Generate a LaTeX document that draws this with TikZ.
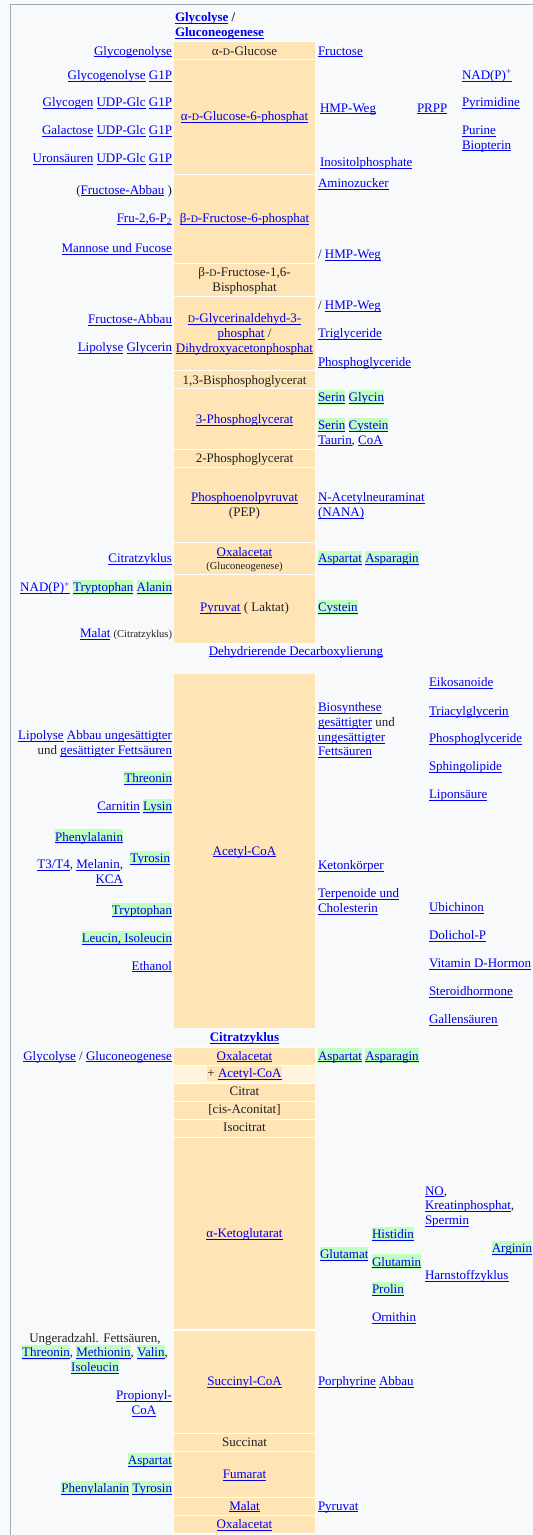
\documentclass[tikz,border=0pt]{standalone}
\usepackage{fontspec}
\setmainfont{Liberation Serif}
\definecolor{bgc}{HTML}{F8F9FA}
\definecolor{bordc}{HTML}{A2A9B1}
\definecolor{beige}{HTML}{FFE4B5}
\definecolor{lbeige}{HTML}{FFF5DC}
\definecolor{greenc}{HTML}{C0FFC0}
\definecolor{linkc}{HTML}{0000EE}
\definecolor{txt}{HTML}{202122}
\setlength\fboxsep{0pt}
\newcommand\lk[1]{{\color{linkc}\setbox0\hbox{#1}\rlap{\rule[-2.3pt]{\wd0}{0.9pt}}\box0}}
\newcommand\gstrut{\rule[-2.8pt]{0pt}{14.4pt}}
\newcommand\gh[1]{\colorbox{greenc}{\gstrut#1}}
\newcommand\gl[1]{\gh{\lk{#1}}}
\newcommand\sD{{\fontsize{10pt}{10pt}\selectfont D}}
\newcommand\smalltxt{\fontsize{10.5pt}{12pt}\selectfont}
\tikzset{
  every node/.style={font=\fontsize{13pt}{14.7pt}\selectfont, inner sep=0pt, outer sep=0pt, text=txt},
  lt/.style={anchor=base east},
  rt/.style={anchor=base west},
  ct/.style={anchor=base},
  cellfill/.style={fill=beige},
}
\begin{document}
\begin{tikzpicture}[x=1pt,y=-1pt]
\useasboundingbox (0,0) rectangle (533,1535);
\fill[bgc] (0,0) rectangle (533,1535);
\draw[bordc, line width=1pt] (10.5,1535) -- (10.5,4.5) -- (533,4.5);
% white backing of the column
\fill[white] (174,41) rectangle (315,644);
\fill[white] (174,1047) rectangle (315,1534);
% cells
\foreach \a/\b in {42/59,60/174,175/263,264/296,297/370,371/388,389/449,450/467,468/542,543/574,575/643,674/1028,1048/1065,1084/1101,1102/1119,1120/1137,1138/1329,1331/1433,1434/1451,1452/1497,1498/1515,1516/1533}
  \fill[cellfill] (174,\a) rectangle (315,\b);
\fill[lbeige] (174,1066) rectangle (315,1083);
% header (base = last line)
\node[rt, align=left, font=\fontsize{13pt}{14.7pt}\selectfont\bfseries] (hdr) at (175,36.4) {\lk{Glycolyse} /\\\lk{Gluconeogenese}};
% centre column
\node[ct] (glc) at (244.5,55) {α-\sD-Glucose};
\node[ct] (g6p) at (244.5,120.7) {\lk{α-\sD-Glucose-6-phosphat}};
\node[ct] (f6p) at (244.5,222.7) {\lk{β-\sD-Fructose-6-phosphat}};
\node[ct, align=center] (fbp) at (244.5,291.2) {β-\sD-Fructose-1,6-\\Bisphosphat};
\node[ct, align=center] (gap) at (244.5,352) {\lk{\sD-Glycerinaldehyd-3-}\\\lk{phosphat} /\\\lk{Dihydroxyacetonphosphat}};
\node[ct] (bpg) at (244.5,384) {1,3-Bisphosphoglycerat};
\node[ct] (pgd) at (244.5,423.3) {\lk{3-Phosphoglycerat}};
\node[ct] (pgz) at (244.5,462.7) {2-Phosphoglycerat};
\node[ct, align=center] (pep) at (244.5,516.5) {\lk{Phosphoenolpyruvat}\\(PEP)};
\node[ct] (oaaa) at (244.5,556) {\lk{Oxalacetat}};
\node[ct] (oaaasub) at (244.5,569) {\smalltxt (Gluconeogenese)};
\node[ct] (pyr) at (244.5,611.7) {\lk{Pyruvat} ( Laktat)};
\node[ct] (dec) at (296,655) {\lk{Dehydrierende Decarboxylierung}};
\node[ct] (acoa) at (244.5,855) {\lk{Acetyl-CoA}};
\node[ct] (citz) at (244.5,1041.7) {\bfseries\lk{Citratzyklus}};
\node[ct] (oaab) at (244.5,1060) {\lk{Oxalacetat}};
\node[ct] (plus) at (244.5,1077.7) {\colorbox{beige}{\gstrut+ \lk{Acetyl-CoA}}};
\node[ct] (cit) at (244.5,1095.7) {Citrat};
\node[ct] (cis) at (244.5,1113.7) {[cis-Aconitat]};
\node[ct] (iso) at (244.5,1131.7) {Isocitrat};
\node[ct] (akg) at (244.5,1237.3) {\lk{α-Ketoglutarat}};
\node[ct] (scoa) at (244.5,1385.7) {\lk{Succinyl-CoA}};
\node[ct] (succ) at (244.5,1446.7) {Succinat};
\node[ct] (fum) at (244.5,1478.3) {\lk{Fumarat}};
\node[ct] (mal) at (244.5,1510) {\lk{Malat}};
\node[ct] (oaac) at (244.5,1528.3) {\lk{Oxalacetat}};
% left column
\node[lt] (l1) at (172,55) {\lk{Glycogenolyse}};
\node[lt] (l2) at (172,79.3) {\lk{Glycogenolyse} \lk{G1P}};
\node[lt] (l3) at (172,106.7) {\lk{Glycogen} \lk{UDP-Glc} \lk{G1P}};
\node[lt] (l4) at (172,134.3) {\lk{Galactose} \lk{UDP-Glc} \lk{G1P}};
\node[lt] (l5) at (172,162.3) {\lk{Uronsäuren} \lk{UDP-Glc} \lk{G1P}};
\node[lt] (l6) at (172,194) {(\lk{Fructose-Abbau} )};
\node[lt] (l7) at (172,222.3) {\lk{Fru-2,6-P\textsubscript{2}}};
\node[lt] (l8) at (172,252.7) {\lk{Mannose und Fucose}};
\node[lt] (l9) at (172,323.3) {\lk{Fructose-Abbau}};
\node[lt] (l10) at (172,351.7) {\lk{Lipolyse} \lk{Glycerin}};
\node[lt] (l11) at (172,562.7) {\lk{Citratzyklus}};
\node[lt] (l12) at (172,591.7) {\lk{NAD(P)\textsuperscript{+}} \gl{Tryptophan} \gl{Alanin}};
\node[lt] (l13) at (172,637.7) {\lk{Malat} {\smalltxt (Citratzyklus)}};
\node[lt, align=right] (l14) at (172,754.6) {\lk{Lipolyse} \lk{Abbau ungesättigter}\\und \lk{gesättigter Fettsäuren}};
\node[lt] (l15) at (172,782.3) {\gl{Threonin}};
\node[lt] (l16) at (172,810.7) {\lk{Carnitin} \gl{Lysin}};
\node[lt] (l17) at (123,841) {\gl{Phenylalanin}};
\node[lt, align=right] (l18) at (123,883.1) {\lk{T3/T4}, \lk{Melanin},\\\lk{KCA}};
\node[lt] (l19) at (170,862.3) {\gl{Tyrosin}};
\node[lt] (l20) at (172,914.3) {\gl{Tryptophan}};
\node[lt] (l21) at (172,942.3) {\gl{Leucin, Isoleucin}};
\node[lt] (l22) at (172,970) {\lk{Ethanol}};
\node[lt] (l23) at (172,1060) {\lk{Glycolyse} / \lk{Gluconeogenese}};
\node[ct, align=center] (l24) at (95,1371.6) {Ungeradzahl. Fettsäuren,\\\gl{Threonin}, \gl{Methionin}, \gl{Valin},\\\gl{Isoleucin}};
\node[ct, align=center] (l25) at (144,1414.6) {\lk{Propionyl-}\\\lk{CoA}};
\node[lt] (l26) at (172,1464.3) {\gl{Aspartat}};
\node[lt] (l27) at (172,1492.3) {\gl{Phenylalanin} \gl{Tyrosin}};
% right column
\node[rt] (r1) at (318,55) {\lk{Fructose}};
\node[rt] (r2) at (320,112) {\lk{HMP-Weg}};
\node[rt] (r3) at (417,112) {\lk{PRPP}};
\node[rt] (r4) at (462,79.3) {\lk{NAD(P)\textsuperscript{+}}};
\node[rt] (r5) at (462,106.7) {\lk{Pyrimidine}};
\node[rt, align=left] (r6) at (462,149) {\lk{Purine}\\\lk{Biopterin}};
\node[rt] (r7) at (320,166.7) {\lk{Inositolphosphate}};
\node[rt] (r8) at (318,187.3) {\lk{Aminozucker}};
\node[rt] (r9) at (318,258.3) {/ \lk{HMP-Weg}};
\node[rt] (r10) at (318,309.3) {/ \lk{HMP-Weg}};
\node[rt] (r11) at (318,337.7) {\lk{Triglyceride}};
\node[rt] (r12) at (318,366) {\lk{Phosphoglyceride}};
\node[rt] (r13) at (318,401.7) {\gl{Serin} \gl{Glycin}};
\node[rt, align=left] (r14) at (318,444) {\gl{Serin} \gl{Cystein}\\\lk{Taurin}, \lk{CoA}};
\node[rt, align=left] (r15) at (318,516.5) {\lk{N-Acetylneuraminat}\\\lk{(NANA)}};
\node[rt] (r16) at (318,562.7) {\gl{Aspartat} \gl{Asparagin}};
\node[rt] (r17) at (318,611.7) {\gl{Cystein}};
\node[rt, align=left] (r18) at (318,755.9) {\lk{Biosynthese}\\\lk{gesättigter} und\\\lk{ungesättigter}\\\lk{Fettsäuren}};
\node[rt] (r19) at (318,869.3) {\lk{Ketonkörper}};
\node[rt, align=left] (r20) at (318,912.4) {\lk{Terpenoide und}\\\lk{Cholesterin}};
\node[rt] (r21) at (429,686.7) {\lk{Eikosanoide}};
\node[rt] (r22) at (429,715) {\lk{Triacylglycerin}};
\node[rt] (r23) at (429,742.7) {\lk{Phosphoglyceride}};
\node[rt] (r24) at (429,770.7) {\lk{Sphingolipide}};
\node[rt] (r25) at (429,798.7) {\lk{Liponsäure}};
\node[rt] (r26) at (429,911.7) {\lk{Ubichinon}};
\node[rt] (r27) at (429,939.3) {\lk{Dolichol-P}};
\node[rt] (r28) at (429,967.3) {\lk{Vitamin D-Hormon}};
\node[rt] (r29) at (429,995.7) {\lk{Steroidhormone}};
\node[rt] (r30) at (429,1023.3) {\lk{Gallensäuren}};
\node[rt] (r31) at (318,1060) {\gl{Aspartat} \gl{Asparagin}};
\node[rt] (r32) at (320,1258.3) {\gl{Glutamat}};
\node[rt] (r33) at (372,1238.3) {\gl{Histidin}};
\node[rt] (r34) at (372,1266) {\gl{Glutamin}};
\node[rt] (r35) at (372,1293.3) {\gl{Prolin}};
\node[rt] (r36) at (372,1321.7) {\lk{Ornithin}};
\node[rt, align=left] (r37) at (425,1224.4) {\lk{NO},\\\lk{Kreatinphosphat},\\\lk{Spermin}};
\node[lt] (r38) at (532,1252.7) {\gl{Arginin}};
\node[rt] (r39) at (425,1279.3) {\lk{Harnstoffzyklus}};
\node[rt] (r40) at (318,1385.7) {\lk{Porphyrine} \lk{Abbau}};
\node[rt] (r41) at (318,1510) {\lk{Pyruvat}};
\end{tikzpicture}
\end{document}
